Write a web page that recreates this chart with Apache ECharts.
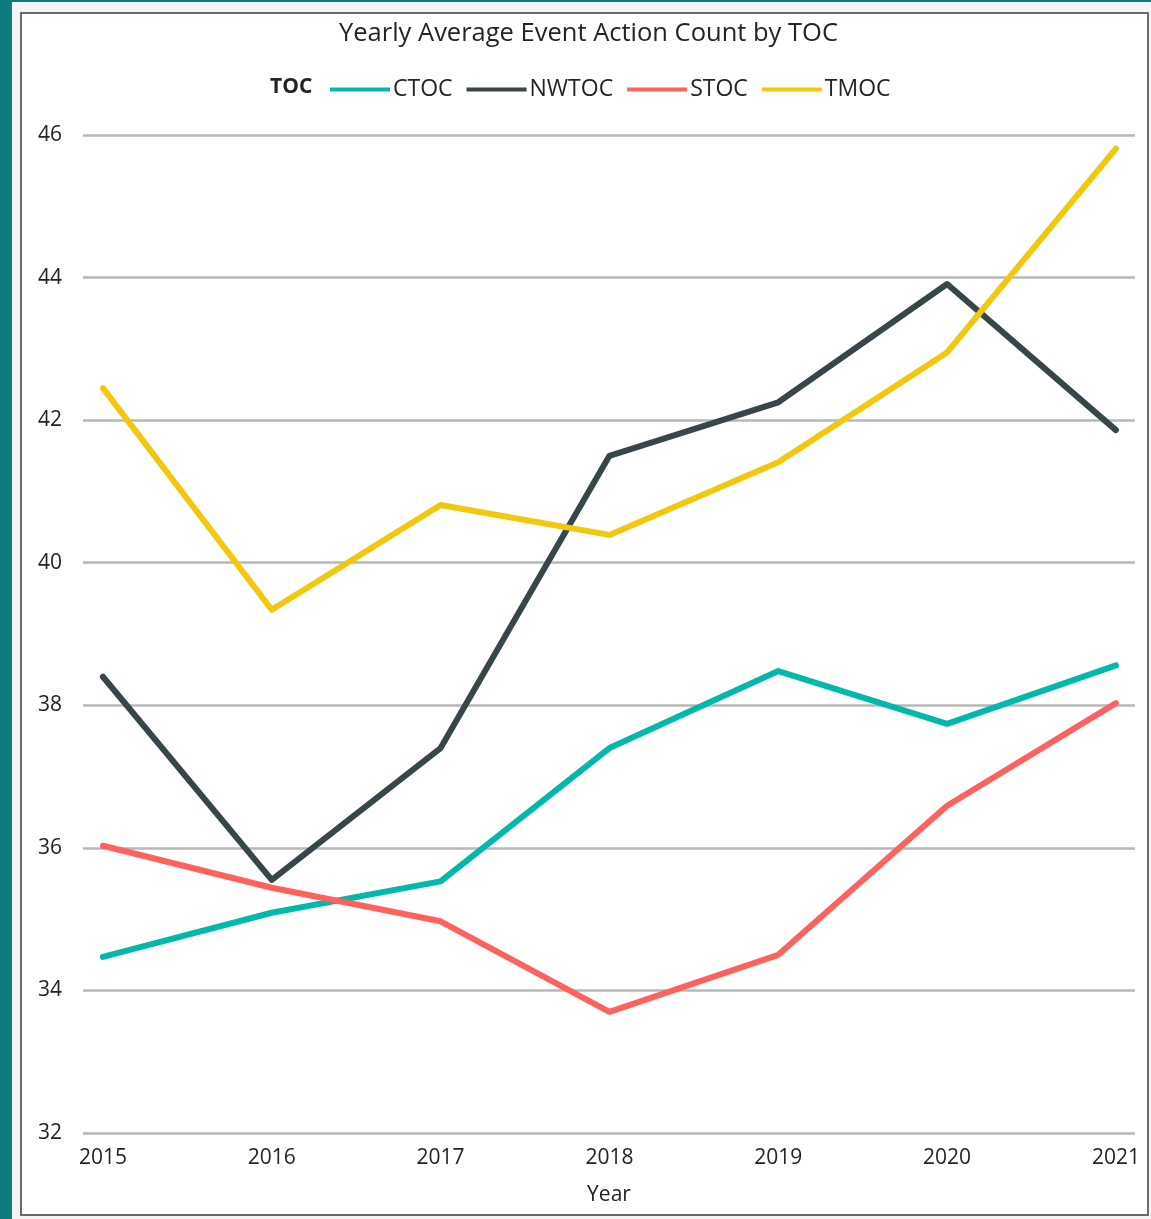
<!DOCTYPE html>
<html>
<head>
<meta charset="utf-8">
<script src="https://cdn.jsdelivr.net/npm/echarts@6/dist/echarts.min.js"></script>
<style>
html,body{margin:0;padding:0;width:1151px;height:1219px;overflow:hidden;background:#0e7a7e;}
#chart{position:absolute;left:0;top:0;width:1151px;height:1219px;}
</style>
</head>
<body>
<div id="chart"></div>
<script>
const years = [2015, 2016, 2017, 2018, 2019, 2020, 2021];
const ctoc  = [34.47, 35.09, 35.53, 37.40, 38.48, 37.74, 38.56];
const nwtoc = [38.40, 35.55, 37.40, 41.50, 42.25, 43.91, 41.86];
const stoc  = [36.03, 35.44, 34.97, 33.70, 34.50, 36.59, 38.03];
const tmoc  = [42.45, 39.34, 40.81, 40.39, 41.41, 42.95, 45.81];
const yTicks = [32, 34, 36, 38, 40, 42, 44, 46];

const FONT = '"Segoe UI", "Open Sans", "Noto Sans", sans-serif';
const chart = echarts.init(document.getElementById('chart'), null, {renderer:'canvas'});

function mk(name, vals, color){
  return {
    name, type:'line', data: years.map((y,i)=>[y, vals[i]]), showSymbol:false, symbol:'none',
    lineStyle:{width:6, color, cap:'round', join:'round'},
    itemStyle:{color},
    emphasis:{disabled:true}
  };
}

chart.setOption({
  backgroundColor:'#0e7a7e',
  animation:false,
  graphic:[
    {type:'rect', z:-10, silent:true, shape:{x:12,y:2,width:1139,height:1217}, style:{fill:'#f4f4f4'}},
    {type:'rect', z:-9, silent:true, shape:{x:21,y:13,width:1127,height:1202}, style:{fill:'#ffffff', stroke:'#6b6b6b', lineWidth:2}},
    {type:'text', z:10, left:270, top:77, style:{text:'TOC', font:'bold 21px ' + FONT, fill:'#252423'}}
  ],
  title:{
    text:'Yearly Average Event Action Count by TOC',
    left:334, top:16,
    textStyle:{fontFamily:FONT, fontSize:25.5, fontWeight:'normal', color:'#252423'}
  },
  legend:{
    left:325, top:73,
    itemWidth:60, itemHeight:14, itemGap:14,
    icon:'path://M0,5 L60,5 L60,9 L0,9 Z',
    textStyle:{fontFamily:FONT, fontSize:23, color:'#252423', padding:[0,0,0,-2]},
    data:['CTOC','NWTOC','STOC','TMOC']
  },
  grid:{left:83, right:16, top:135, bottom:86, containLabel:false},
  xAxis:{
    type:'value', min:2014.882, max:2021.113,
    name:'Year', nameLocation:'middle', nameGap:52,
    nameTextStyle:{fontFamily:FONT, fontSize:21, color:'#252423'},
    axisLine:{show:false}, axisTick:{show:false}, splitLine:{show:false},
    axisLabel:{fontFamily:FONT, fontSize:21, color:'#252423', margin:15,
      customValues: years, formatter: v => String(v)}
  },
  yAxis:{
    type:'value', min:32, max:46, interval:2,
    axisLine:{show:false}, axisTick:{show:false},
    axisLabel:{fontFamily:FONT, fontSize:21, color:'#252423', margin:21,
      formatter:v=> yTicks.includes(v) ? String(v) : ''},
    splitLine:{lineStyle:{color:'#b8b8b8', width:2.5}}
  },
  series:[
    mk('CTOC', ctoc, '#01B8AA'),
    mk('NWTOC', nwtoc, '#374649'),
    mk('STOC', stoc, '#FD625E'),
    mk('TMOC', tmoc, '#F2C80F')
  ]
});
</script>
</body>
</html>
